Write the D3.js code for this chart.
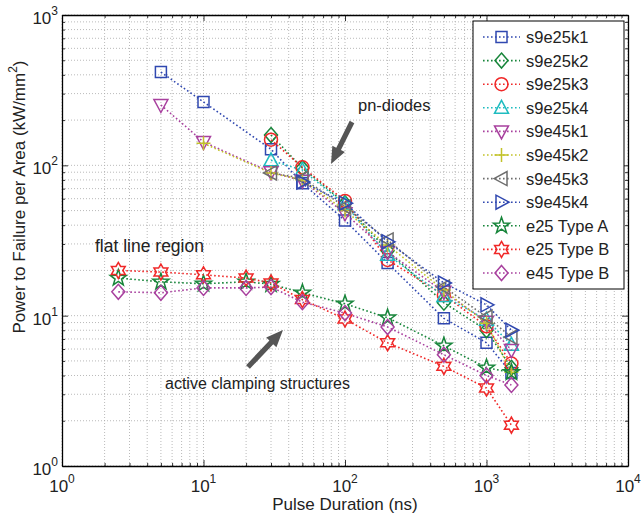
<!DOCTYPE html>
<html>
<head>
<meta charset="utf-8">
<script src="https://cdn.jsdelivr.net/npm/d3@7"></script>
<style>
  body { margin: 0; background: #fff; }
  svg { font-family: "Liberation Sans", Arial, sans-serif; }
</style>
</head>
<body>
<svg id="chart" width="643" height="516"></svg>
<script>
// pulse durations (ns) used by the different test structures
const pulseLong = [5, 10, 30, 50, 100, 200, 500, 1000, 1500];
const pulseDiode = [30, 50, 100, 200, 500, 1000, 1500];
const pulseK2 = [10, 30, 50, 100, 200, 500, 1000, 1500];
const pulseK4 = [50, 100, 200, 500, 1000, 1500];
const pulseClamp = [2.5, 5, 10, 20, 30, 50, 100, 200, 500, 1000, 1500];

// power to failure per area (kW/mm^2)
const s9e25k1 = [417, 264, 128, 76, 43, 22.4, 9.6, 6.6, 4.15];
const s9e25k2 = [159, 96, 56, 27, 12.2, 8.0, 4.5];
const s9e25k3 = [148, 97, 58, 23.5, 13.7, 8.5, 4.8];
const s9e25k4 = [108, 93, 55, 25.4, 13.5, 9.4, 6.4];
const s9e45k1 = [252, 143, 90, 79, 48, 26.5, 14.4, 9.1, 5.9];
const s9e45k2 = [140, 89, 80, 50, 29.5, 14.8, 8.9, 4.2];
const s9e45k3 = [89, 82, 53, 31.9, 15.5, 9.8, 7.2];
const s9e45k4 = [77.5, 56, 31, 16.5, 11.8, 8.0];
const e25TypeA = [17.8, 16.8, 16.3, 16.8, 16.2, 14.2, 12, 9.7, 6.3, 4.5, 4.2];
const e25TypeB = [20, 19.5, 18.7, 17.8, 16.5, 12.8, 9.5, 6.6, 4.6, 3.3, 1.87];
const e45TypeB = [14.4, 14.2, 15.3, 15.3, 15.5, 12.3, 10.4, 8.4, 5.5, 4.0, 3.46];

const xTicks = [1, 10, 100, 1000, 10000];
const yTicks = [1, 10, 100, 1000];

const series = [
    { name: "s9e25k1", xs: pulseLong, ys: s9e25k1, color: "#3048b0", marker: "square" },
    { name: "s9e25k2", xs: pulseDiode, ys: s9e25k2, color: "#17853a", marker: "diamond" },
    { name: "s9e25k3", xs: pulseDiode, ys: s9e25k3, color: "#f02828", marker: "circle" },
    { name: "s9e25k4", xs: pulseDiode, ys: s9e25k4, color: "#1fbcc0", marker: "triUp" },
    { name: "s9e45k1", xs: pulseLong, ys: s9e45k1, color: "#a8409e", marker: "triDown" },
    { name: "s9e45k2", xs: pulseK2, ys: s9e45k2, color: "#c2c22a", marker: "plus" },
    { name: "s9e45k3", xs: pulseDiode, ys: s9e45k3, color: "#6e6e6e", marker: "triLeft" },
    { name: "s9e45k4", xs: pulseK4, ys: s9e45k4, color: "#3048b0", marker: "triRight" },
    { name: "e25 Type A", xs: pulseClamp, ys: e25TypeA, color: "#17853a", marker: "pentagram" },
    { name: "e25 Type B", xs: pulseClamp, ys: e25TypeB, color: "#f02828", marker: "hexagram" },
    { name: "e45 Type B", xs: pulseClamp, ys: e45TypeB, color: "#a8409e", marker: "diamond" }
];

const svg = d3.select("#chart");
const plotLeft = 62, plotRight = 628, plotTop = 15, plotBottom = 466;

const x = d3.scaleLog().domain([1, 1e4]).range([plotLeft, plotRight]);
const y = d3.scaleLog().domain([1, 1e3]).range([plotBottom, plotTop]);

function minorTicks(lo, hi) {
    let res = [];
    for (let d = lo; d < hi; d *= 10)
        for (let k = 2; k <= 9; k++) res.push(d * k);
    return res;
}
const xMinor = minorTicks(1, 1e4);
const yMinor = minorTicks(1, 1e3);

// grid
const grid = svg.append("g")
    .attr("stroke", "#a8a8a8")
    .attr("stroke-width", 0.8)
    .attr("stroke-dasharray", "1,2");
grid.selectAll(".gx").data(xTicks.concat(xMinor)).join("line")
    .attr("x1", d => x(d)).attr("x2", d => x(d))
    .attr("y1", plotTop).attr("y2", plotBottom);
grid.selectAll(".gy").data(yTicks.concat(yMinor)).join("line")
    .attr("x1", plotLeft).attr("x2", plotRight)
    .attr("y1", d => y(d)).attr("y2", d => y(d));

// axes with inward ticks on all sides
const axisG = svg.append("g");
[
    [d3.axisBottom(x), plotBottom, -1],
    [d3.axisTop(x), plotTop, 1]
].forEach(([ax, yy, dir]) => {
    const g = axisG.append("g").attr("transform", `translate(0,${yy})`)
        .call(ax.tickValues(xTicks.concat(xMinor)).tickSizeOuter(0).tickFormat(""));
    g.selectAll(".tick line").attr("y2", d => (xTicks.includes(d) ? 6 : 3) * dir);
});
[
    [d3.axisLeft(y), plotLeft, 1],
    [d3.axisRight(y), plotRight, -1]
].forEach(([ax, xx, dir]) => {
    const g = axisG.append("g").attr("transform", `translate(${xx},0)`)
        .call(ax.tickValues(yTicks.concat(yMinor)).tickSizeOuter(0).tickFormat(""));
    g.selectAll(".tick line").attr("x2", d => (yTicks.includes(d) ? 6 : 3) * dir);
});
axisG.selectAll(".domain").attr("stroke", "#000").attr("stroke-width", 1.3);
axisG.selectAll(".tick line").attr("stroke", "#000").attr("stroke-width", 0.8);

// tick labels 10^n
const labelSize = 17;
xTicks.forEach(v => {
    const t = svg.append("text")
        .attr("x", x(v)).attr("y", 492)
        .attr("text-anchor", "middle")
        .attr("font-size", labelSize).attr("fill", "#222");
    t.append("tspan").text("10");
    t.append("tspan").attr("dy", -9).attr("font-size", 12).text(Math.round(Math.log10(v)));
});
yTicks.forEach(v => {
    const t = svg.append("text")
        .attr("x", 58).attr("y", y(v) + 9)
        .attr("text-anchor", "end")
        .attr("font-size", labelSize).attr("fill", "#222");
    t.append("tspan").text("10");
    t.append("tspan").attr("dy", -9).attr("font-size", 12).text(Math.round(Math.log10(v)));
});

// axis titles
svg.append("text")
    .attr("x", 345).attr("y", 510)
    .attr("text-anchor", "middle")
    .attr("font-size", labelSize).attr("fill", "#222")
    .text("Pulse Duration (ns)");
const yl = svg.append("text")
    .attr("transform", "translate(25,197) rotate(-90)")
    .attr("text-anchor", "middle")
    .attr("font-size", labelSize).attr("fill", "#222");
yl.append("tspan").text("Power to Failure per Area (kW/mm");
yl.append("tspan").attr("dy", -8).attr("font-size", 12).text("2");
yl.append("tspan").attr("dy", 8).text(")");

// marker shapes
function markerPath(type) {
    const poly = pts => "M" + pts.map(p => p[0].toFixed(2) + "," + p[1].toFixed(2)).join("L") + "Z";
    const star = (n, r1, r2, rot) => {
        let pts = [];
        for (let i = 0; i < 2 * n; i++) {
            const a = rot + i * Math.PI / n;
            const r = i % 2 === 0 ? r1 : r2;
            pts.push([r * Math.sin(a), -r * Math.cos(a)]);
        }
        return poly(pts);
    };
    switch (type) {
        case "square": return poly([[-5.5, -5.5], [5.5, -5.5], [5.5, 5.5], [-5.5, 5.5]]);
        case "diamond": return poly([[0, -7.5], [6.5, 0], [0, 7.5], [-6.5, 0]]);
        case "circle": return "M6.5,0A6.5,6.5 0 1,1 -6.5,0A6.5,6.5 0 1,1 6.5,0Z";
        case "triUp": return poly([[0, -7.5], [7, 5.5], [-7, 5.5]]);
        case "triDown": return poly([[0, 7.5], [7, -5.5], [-7, -5.5]]);
        case "triLeft": return poly([[-7.5, 0], [5.5, -7], [5.5, 7]]);
        case "triRight": return poly([[7.5, 0], [-5.5, -7], [-5.5, 7]]);
        case "plus": return "M-7,0L7,0M0,-7L0,7";
        case "pentagram": return star(5, 8.5, 3.4, 0);
        case "hexagram": return star(6, 8, 4.6, 0);
    }
}

const line = d3.line().x(d => x(d[0])).y(d => y(d[1]));

const plot = svg.append("g");
series.forEach(s => {
    const pts = s.xs.map((v, i) => [v, s.ys[i]]);
    const g = plot.append("g");
    g.append("path")
        .datum(pts)
        .attr("fill", "none")
        .attr("stroke", s.color)
        .attr("stroke-width", 1.6)
        .attr("stroke-dasharray", "1.6,2.4")
        .attr("d", line);
    g.selectAll("path.m").data(pts).join("path")
        .attr("class", "m")
        .attr("transform", d => `translate(${x(d[0])},${y(d[1])})`)
        .attr("d", markerPath(s.marker))
        .attr("fill", "none")
        .attr("stroke", s.color)
        .attr("stroke-width", 1.5);
});

// annotations
function arrow(x1, y1, x2, y2) {
    const ang = Math.atan2(y2 - y1, x2 - x1);
    const len = Math.hypot(x2 - x1, y2 - y1);
    const hl = 17, hw = 7, sw = 2.6;
    const pts = [[0, -sw], [len - hl, -sw], [len - hl, -hw], [len, 0], [len - hl, hw], [len - hl, sw], [0, sw]];
    svg.append("path")
        .attr("transform", `translate(${x1},${y1}) rotate(${ang * 180 / Math.PI})`)
        .attr("d", "M" + pts.map(p => p.join(",")).join("L") + "Z")
        .attr("fill", "#555");
}
arrow(352, 122, 331, 164);
arrow(248, 367, 283, 330);

const annot = [
    { text: "pn-diodes", x: 358, y: 111, size: 16.5 },
    { text: "flat line region", x: 95, y: 252, size: 17.5 },
    { text: "active clamping structures", x: 165, y: 389, size: 16 }
];
annot.forEach(a => svg.append("text")
    .attr("x", a.x).attr("y", a.y)
    .attr("font-size", a.size).attr("fill", "#222")
    .text(a.text));

// legend
const lg = svg.append("g").attr("transform", "translate(473,21)");
lg.append("rect")
    .attr("width", 151).attr("height", 268)
    .attr("fill", "#fff").attr("stroke", "#000").attr("stroke-width", 1);
series.forEach((s, i) => {
    const yy = 16 + i * 23.6;
    lg.append("line")
        .attr("x1", 10).attr("x2", 47).attr("y1", yy).attr("y2", yy)
        .attr("stroke", s.color).attr("stroke-width", 1.6)
        .attr("stroke-dasharray", "1.6,2.4");
    lg.append("path")
        .attr("transform", `translate(28.5,${yy})`)
        .attr("d", markerPath(s.marker))
        .attr("fill", "none").attr("stroke", s.color).attr("stroke-width", 1.5);
    lg.append("text")
        .attr("x", 53).attr("y", yy + 6)
        .attr("font-size", 16.5).attr("fill", "#222")
        .text(s.name);
});
</script>
</body>
</html>
